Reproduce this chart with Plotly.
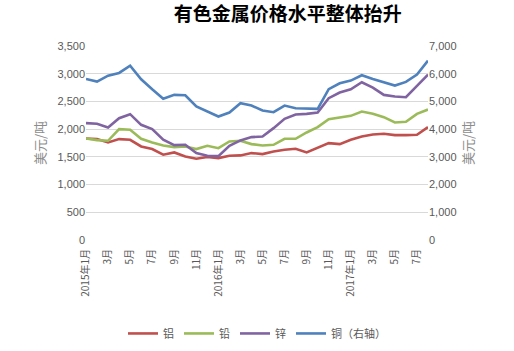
import plotly.graph_objects as go

months = [f"{y}-{m:02d}" for y in (2015, 2016, 2017) for m in range(1, 13)][:32]
tick_vals = months[::2]
tick_text = ["2015年1月", "3月", "5月", "7月", "9月", "11月",
             "2016年1月", "3月", "5月", "7月", "9月", "11月",
             "2017年1月", "3月", "5月", "7月"]

aluminum = [1832, 1820, 1760, 1820, 1808, 1688, 1640, 1538, 1580, 1508, 1466,
            1496, 1478, 1520, 1526, 1568, 1550, 1598, 1628, 1646, 1580, 1657,
            1748, 1730, 1808, 1868, 1904, 1916, 1892, 1892, 1898, 2036]
lead = [1832, 1802, 1790, 2000, 1988, 1826, 1760, 1706, 1676, 1688, 1640,
        1700, 1657, 1777, 1790, 1730, 1706, 1718, 1826, 1826, 1940, 2036,
        2180, 2210, 2240, 2318, 2276, 2216, 2120, 2132, 2276, 2354]
zinc = [2108, 2096, 2030, 2198, 2270, 2078, 2000, 1808, 1712, 1718, 1568,
        1520, 1514, 1700, 1796, 1856, 1868, 2018, 2186, 2264, 2276, 2300,
        2558, 2660, 2720, 2846, 2750, 2618, 2588, 2576, 2780, 2984]
copper = [5812, 5716, 5930, 6028, 6290, 5800, 5440, 5100, 5236, 5224, 4816,
          4636, 4456, 4600, 4936, 4852, 4672, 4612, 4852, 4756, 4732, 4732,
          5440, 5656, 5752, 5944, 5812, 5692, 5572, 5704, 5968, 6472]

names = ["铝", "铅", "锌", "铜（右轴）"]
colors = ["#C0504D", "#9BBB59", "#8064A2", "#4F81BD"]

fig = go.Figure()
for name, vals, col in zip(names[:3], [aluminum, lead, zinc], colors[:3]):
    fig.add_trace(go.Scatter(x=months, y=vals, name=name, mode="lines",
                             line=dict(color=col, width=2.6)))
fig.add_trace(go.Scatter(x=months, y=copper, name=names[3], mode="lines",
                         line=dict(color=colors[3], width=2.6), yaxis="y2"))

tick_font = dict(family="Liberation Sans, Arial", size=11, color="#595959")
title_font = dict(family="Noto Sans CJK SC", size=13, color="#8C8C8C")

fig.update_layout(
    width=514, height=351,
    margin=dict(l=86, r=86, t=46, b=111, autoexpand=False),
    paper_bgcolor="white", plot_bgcolor="white",
    title=dict(text="<b>有色金属价格水平整体抬升</b>", x=0.56, xanchor="center",
               y=0.96, yanchor="middle",
               font=dict(family="Noto Sans CJK SC", size=19, color="#000000")),
    xaxis=dict(type="category", tickmode="array", tickvals=tick_vals,
               ticktext=tick_text, tickangle=-90, automargin=False, ticklabelstandoff=6,
               tickfont=dict(family="Noto Sans CJK SC, Liberation Sans", size=10,
                             color="#595959"),
               showgrid=False, showline=False, ticks="", zeroline=False),
    yaxis=dict(range=[0, 3500], tickvals=list(range(0, 3501, 500)),
               tickformat=",", tickfont=tick_font, gridcolor="#D9D9D9",
               gridwidth=1, zeroline=False, showline=False, ticks="", automargin=False,
               title=dict(text="美元/吨", font=title_font, standoff=8)),
    yaxis2=dict(range=[0, 7000], tickvals=list(range(0, 7001, 1000)),
                tickformat=",", tickfont=tick_font, overlaying="y", side="right",
                showgrid=False, zeroline=False, showline=False, ticks="", automargin=False,
                title=dict(text="美元/吨", font=title_font, standoff=8)),
    legend=dict(orientation="h", x=0.5, xanchor="center", yref="container",
                y=0.05, yanchor="middle",
                font=dict(family="Noto Sans CJK SC", size=11, color="#595959"),
                itemwidth=30, tracegroupgap=0),
    showlegend=True,
)

fig.write_html("out.html")
